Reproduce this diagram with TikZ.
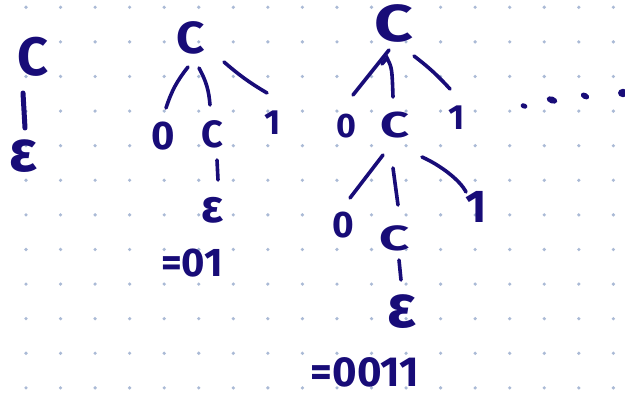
\documentclass[tikz,border=0pt]{standalone}
\usepackage{graphicx}
\usepackage{fontspec}
\setmainfont{Fira Sans}
\definecolor{ink}{RGB}{24,12,120}
\definecolor{gridc}{RGB}{170,186,214}
\newcommand{\fsz}[1]{\fontsize{#1}{#1}\selectfont\bfseries}
\newcommand{\wideC}[1]{\scalebox{#1}[1]{C}}
\begin{document}
\begin{tikzpicture}[x=1pt,y=-1pt,
  edge/.style={draw=ink, line width=3.6pt, line cap=round},
  lbl/.style={text=ink, inner sep=0pt, anchor=center},
  gdot/.style={fill=gridc, draw=none},
  blob/.style={fill=ink, draw=none}]
\useasboundingbox (0,0) rectangle (625,398);
\fill[white] (0,0) rectangle (625,398);
\foreach \i in {0,...,17}{\foreach \j in {0,...,11}{
  \fill[gdot] (26+34.55*\i, 7.3+34.6*\j) circle (1.8pt);}}
% left: C -> epsilon
\node[lbl,font=\fsz{54}] (c0) at (33,57) {C};
\node[lbl,font=\fsz{58}] (e0) at (23,156) {ε};
\draw[edge,line width=5pt] ([shift={(-10,36)}]c0.center) -- ([shift={(2,-28)}]e0.center);
% tree 1
\node[lbl,font=\fsz{45}] (t1c) at (191,38) {\wideC{1.1}};
\node[lbl,font=\fsz{40}] (t1z) at (163,136) {0};
\node[lbl,font=\fsz{38}] (t1cc) at (212,134) {C};
\node[lbl,font=\fsz{35}] (t1o) at (273,123) {1};
\node[lbl,font=\fsz{46}] (t1e) at (213,210) {ε};
\node[lbl,font=\fsz{40}] (t1r) at (192,263) {=01};
\draw[edge] ([shift={(-3,29)}]t1c.center) to[bend right=10] ([shift={(3,-28)}]t1z.center);
\draw[edge] ([shift={(8,30)}]t1c.center) to[bend left=12] ([shift={(-2,-29)}]t1cc.center);
\draw[edge] ([shift={(33,24)}]t1c.center) to[bend right=5] ([shift={(-6,-30)}]t1o.center);
\draw[edge] ([shift={(5,26)}]t1cc.center) -- ([shift={(5,-30)}]t1e.center);
% tree 2
\node[lbl,font=\fsz{52}] (t2c) at (394,23) {\wideC{1.3}};
\node[lbl,font=\fsz{34}] (t2z) at (346,126) {0};
\node[lbl,font=\fsz{36}] (t2cc) at (395,125) {\wideC{1.4}};
\node[lbl,font=\fsz{35}] (t2o) at (457,118) {1};
\node[lbl,font=\fsz{37}] (t2z2) at (343,225) {0};
\node[lbl,font=\fsz{35}] (t2c3) at (395,238) {\wideC{1.5}};
\node[lbl,font=\fsz{46}] (t2o2) at (476,207) {1};
\node[lbl,font=\fsz{60}] (t2e) at (402,312) {ε};
\node[lbl,font=\fsz{42}] (t2r) at (365,372) {=0011};
\draw[edge] ([shift={(-5,27)}]t2c.center) -- ([shift={(7,-31)}]t2z.center);
\draw[edge] ([shift={(-12,41)}]t2c.center) -- ([shift={(-7,35)}]t2c.center) .. controls ([shift={(-2,45)}]t2c.center) .. ([shift={(-2,-28)}]t2cc.center);
\draw[edge] ([shift={(20,33)}]t2c.center) to[bend left=5] ([shift={(-7,-29)}]t2o.center);
\draw[edge] ([shift={(-12,30)}]t2cc.center) -- ([shift={(7,-27)}]t2z2.center);
\draw[edge] ([shift={(-2,43)}]t2cc.center) -- ([shift={(3,-33)}]t2c3.center);
\draw[edge] ([shift={(27,32)}]t2cc.center) .. controls ([shift={(45,40)}]t2cc.center) and ([shift={(65,55)}]t2cc.center) .. ([shift={(-10,-15)}]t2o2.center);
\draw[edge] ([shift={(4,22)}]t2c3.center) -- ([shift={(-1,-32)}]t2e.center);
% ellipsis
\fill[blob] (524,106) ellipse [x radius=3.5pt, y radius=2.6pt, rotate=-20];
\fill[blob] (552,100) ellipse [x radius=5.5pt, y radius=3.4pt, rotate=-20];
\fill[blob] (585,96) ellipse [x radius=4.5pt, y radius=3pt, rotate=-30];
\fill[blob] (623,93) ellipse [x radius=5pt, y radius=4.2pt];
\end{tikzpicture}
\end{document}
